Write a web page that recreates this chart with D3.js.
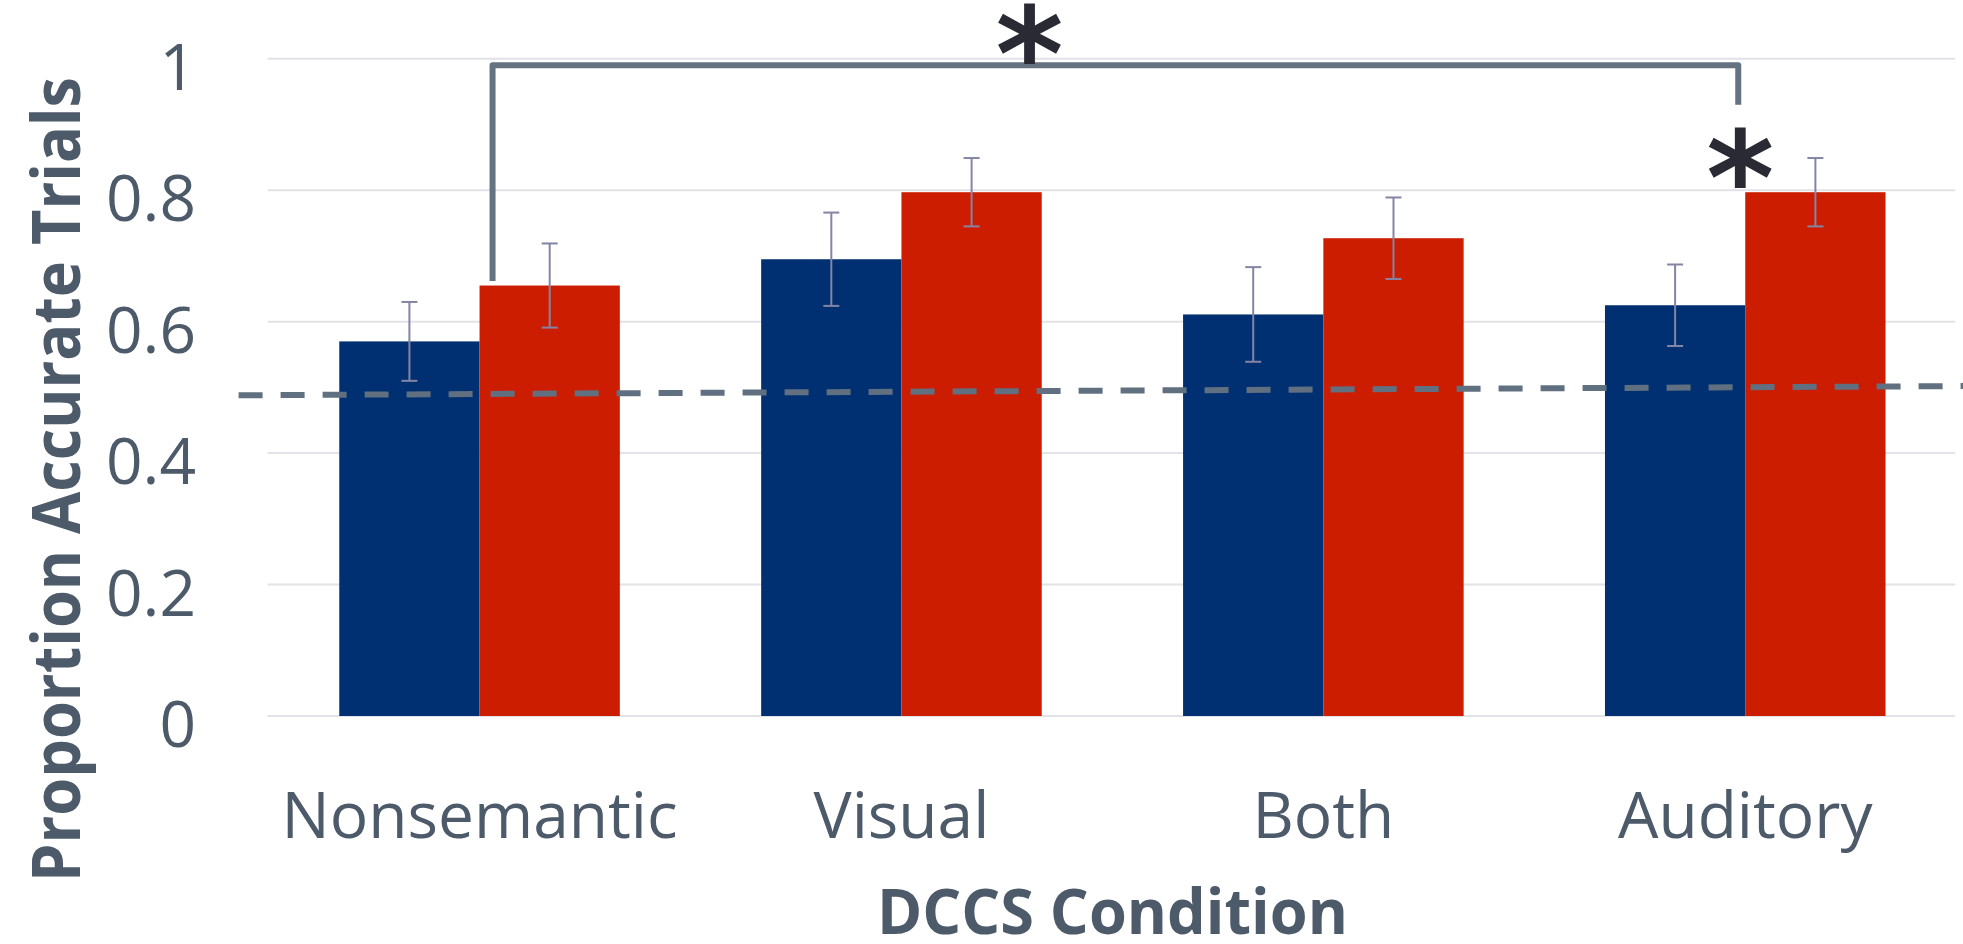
<!DOCTYPE html>
<html>
<head>
<meta charset="utf-8">
<script src="https://cdn.jsdelivr.net/npm/d3@7"></script>
<style>
  html, body { margin: 0; padding: 0; background: #ffffff; }
  svg { display: block; }
</style>
</head>
<body>
<svg id="chart" width="1963" height="944"></svg>
<script>
// Condition categories on the x axis
const categories = ["Nonsemantic", "Visual", "Both", "Auditory"];
// Mean proportion of accurate trials per condition, two groups
const seriesBlue = [0.570, 0.695, 0.611, 0.625];
const seriesRed  = [0.655, 0.797, 0.727, 0.797];
// Error bar half-widths
const errBlue = [0.060, 0.071, 0.072, 0.062];
const errRed  = [0.064, 0.052, 0.062, 0.052];
// Y axis ticks
const yTicks = [0, 0.2, 0.4, 0.6, 0.8, 1];
const yTickLabels = ["0", "0.2", "0.4", "0.6", "0.8", "1"];
// Chance reference line (value at left end, value at right end)
const chanceLine = [0.488, 0.502];
// Significance bracket: level of the bar, bottom of left and right legs
const bracketLevel = 0.99;
const bracketLegs = [0.662, 0.93];

const W = 1963, H = 944;
const svg = d3.select("#chart");

const plot = { left: 268.6, right: 1956.2, top: 58.8, bottom: 716 };

const x = d3.scaleBand()
  .domain(categories)
  .range([plot.left, plot.right])
  .paddingInner(0.335)
  .paddingOuter(0.1675);

const sub = d3.scaleBand()
  .domain(["blue", "red"])
  .range([0, x.bandwidth()]);

const y = d3.scaleLinear().domain([0, 1]).range([plot.bottom, plot.top]);

const textColor = "#4d5a6a";
const fontFamily = "'Open Sans', 'Noto Sans', sans-serif";

// Gridlines
svg.append("g")
  .selectAll("line")
  .data(yTicks)
  .join("line")
  .attr("x1", plot.left - 1)
  .attr("x2", plot.right - 1)
  .attr("y1", d => y(d))
  .attr("y2", d => y(d))
  .attr("stroke", "#e2e2e8")
  .attr("stroke-width", 2);

// Y tick labels
svg.append("g")
  .selectAll("text")
  .data(yTicks)
  .join("text")
  .attr("x", 196)
  .attr("y", d => y(d) + 31)
  .attr("text-anchor", "end")
  .attr("font-family", fontFamily)
  .attr("font-size", 64)
  .attr("fill", textColor)
  .text((d, i) => yTickLabels[i]);

// Bars
const rows = categories.map((c, i) => ({
  cat: c,
  vals: [
    { key: "blue", v: seriesBlue[i], e: errBlue[i], color: "#003071" },
    { key: "red", v: seriesRed[i], e: errRed[i], color: "#cd1d00" }
  ]
}));

const groups = svg.append("g")
  .selectAll("g")
  .data(rows)
  .join("g")
  .attr("transform", d => `translate(${x(d.cat)},0)`);

groups.selectAll("rect")
  .data(d => d.vals)
  .join("rect")
  .attr("x", d => sub(d.key))
  .attr("width", sub.bandwidth())
  .attr("y", d => y(d.v))
  .attr("height", d => y(0) - y(d.v))
  .attr("fill", d => d.color);

// Error bars
const capHalf = 8;
const eb = groups.selectAll("g.err")
  .data(d => d.vals)
  .join("g")
  .attr("class", "err")
  .attr("stroke", "#8484a4")
  .attr("stroke-width", 2);
eb.append("line")
  .attr("x1", d => sub(d.key) + sub.bandwidth() / 2)
  .attr("x2", d => sub(d.key) + sub.bandwidth() / 2)
  .attr("y1", d => y(d.v + d.e))
  .attr("y2", d => y(d.v - d.e));
eb.append("line")
  .attr("x1", d => sub(d.key) + sub.bandwidth() / 2 - capHalf)
  .attr("x2", d => sub(d.key) + sub.bandwidth() / 2 + capHalf)
  .attr("y1", d => y(d.v + d.e))
  .attr("y2", d => y(d.v + d.e));
eb.append("line")
  .attr("x1", d => sub(d.key) + sub.bandwidth() / 2 - capHalf)
  .attr("x2", d => sub(d.key) + sub.bandwidth() / 2 + capHalf)
  .attr("y1", d => y(d.v - d.e))
  .attr("y2", d => y(d.v - d.e));

// Chance level dashed line
svg.append("line")
  .attr("x1", plot.left - 30)
  .attr("x2", W)
  .attr("y1", y(chanceLine[0]))
  .attr("y2", y(chanceLine[1]))
  .attr("stroke", "#607080")
  .attr("stroke-width", 6)
  .attr("stroke-dasharray", "24 18");

// Significance bracket between Nonsemantic and Auditory
const bxL = x("Nonsemantic") + x.bandwidth() / 2 + 13;
const bxR = x("Auditory") + x.bandwidth() / 2 - 7;
svg.append("path")
  .attr("d", d3.line()([
    [bxL, y(bracketLegs[0])],
    [bxL, y(bracketLevel)],
    [bxR, y(bracketLevel)],
    [bxR, y(bracketLegs[1])]
  ]))
  .attr("fill", "none")
  .attr("stroke", "#647282")
  .attr("stroke-width", 6)
  .attr("stroke-linejoin", "round");

// Significance markers
const starStyle = sel => sel
  .attr("text-anchor", "middle")
  .attr("font-family", "'DejaVu Sans', sans-serif")
  .attr("font-weight", "bold")
  .attr("font-size", 130)
  .attr("fill", "#2a2a35")
  .text("*");

svg.append("text")
  .attr("x", bxL + (bxR - bxL) * 0.431)
  .attr("y", 100)
  .call(starStyle);

svg.append("text")
  .attr("x", bxR + 2)
  .attr("y", 224)
  .call(starStyle);

// Category labels
svg.append("g")
  .selectAll("text")
  .data(categories)
  .join("text")
  .attr("x", d => x(d) + x.bandwidth() / 2)
  .attr("y", 838)
  .attr("text-anchor", "middle")
  .attr("font-family", fontFamily)
  .attr("font-size", 64)
  .attr("fill", textColor)
  .text(d => d);

// Axis titles
svg.append("text")
  .attr("x", (plot.left + plot.right) / 2)
  .attr("y", 934)
  .attr("text-anchor", "middle")
  .attr("font-family", fontFamily)
  .attr("font-weight", "bold")
  .attr("font-size", 62)
  .attr("fill", textColor)
  .attr("textLength", 471)
  .attr("lengthAdjust", "spacingAndGlyphs")
  .text("DCCS Condition");

svg.append("text")
  .attr("transform", `translate(79.5,${(77 + 882) / 2}) rotate(-90)`)
  .attr("text-anchor", "middle")
  .attr("font-family", fontFamily)
  .attr("font-weight", "bold")
  .attr("font-size", 66)
  .attr("fill", textColor)
  .attr("textLength", 805)
  .attr("lengthAdjust", "spacingAndGlyphs")
  .text("Proportion Accurate Trials");
</script>
</body>
</html>
